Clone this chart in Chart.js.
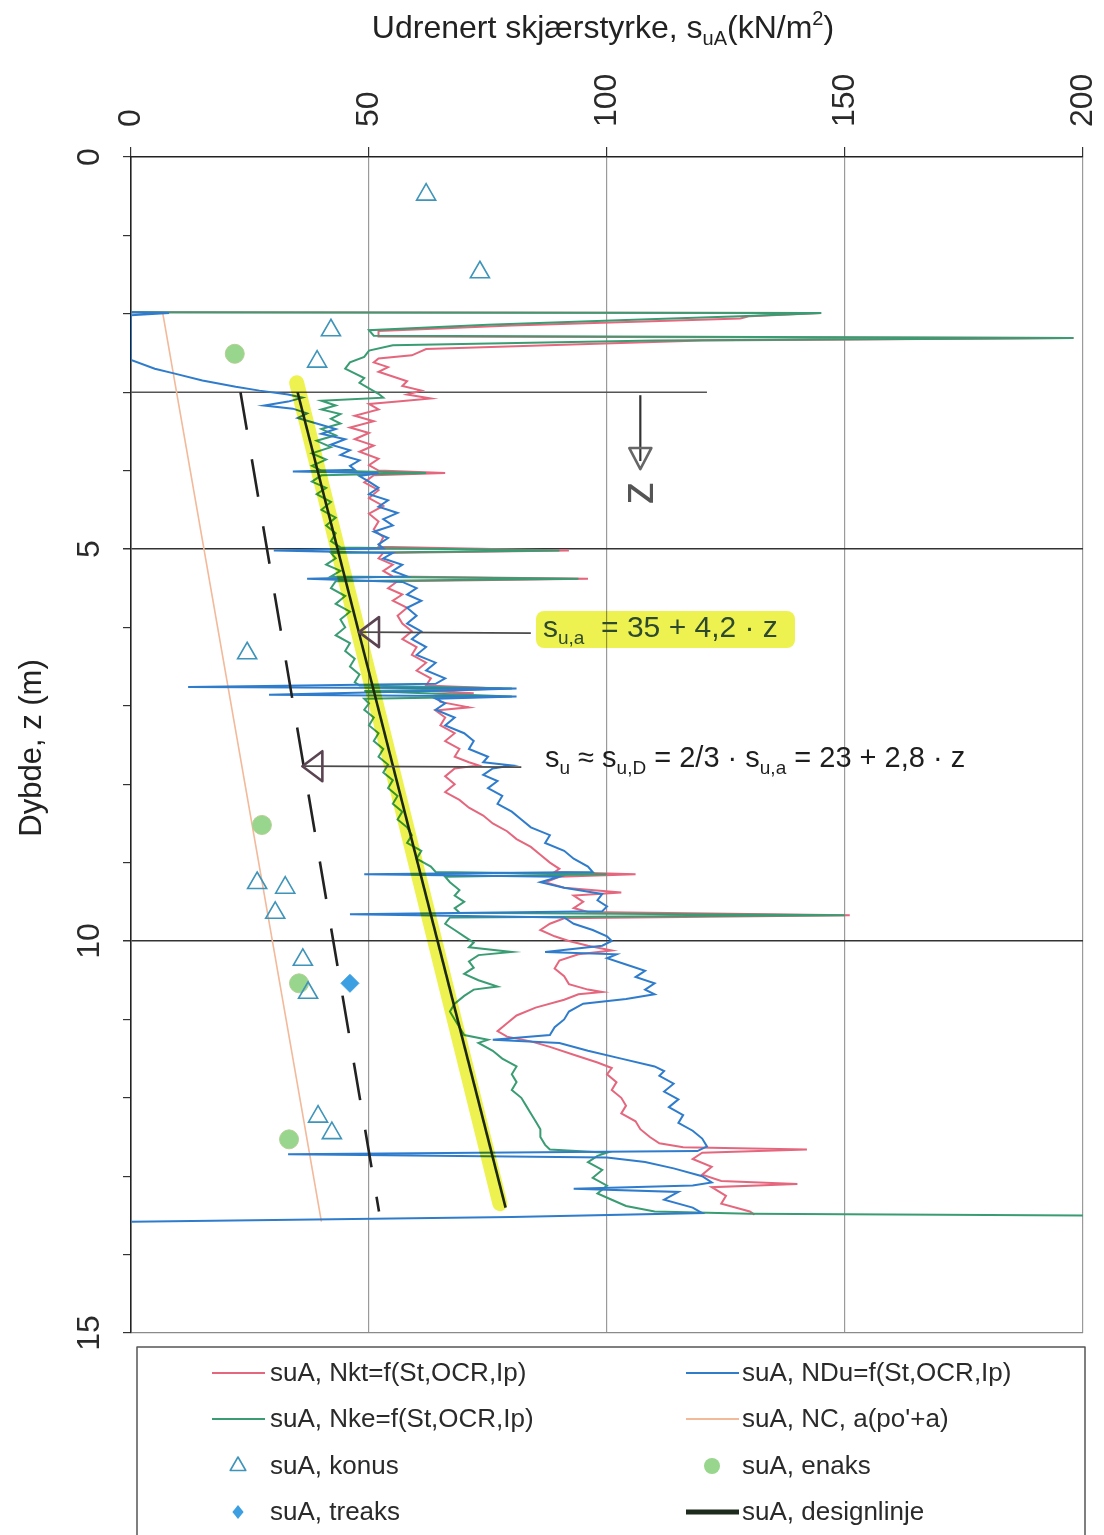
<!DOCTYPE html>
<html><head><meta charset="utf-8">
<script src="https://cdn.jsdelivr.net/npm/chart.js"></script>
<style>html,body{margin:0;padding:0;background:#fff}#wrap{width:1104px;height:1535px;position:relative}</style>
</head><body><div id="wrap"><canvas id="c" width="1104" height="1535"></canvas></div>
<script>
// ---------- DATA (depth z [m], su [kN/m2]) ----------
const suTicks = [0, 50, 100, 150, 200];
const depthTicks = [0, 5, 10, 15];

const nktProfile = [[1.98,0],[1.99,145],[2.03,130],[2.06,128],[2.10,106],[2.15,80],[2.22,52],[2.29,52],[2.31,198],[2.34,120],[2.45,62],[2.53,59],[2.57,52],[2.62,51],[2.68,54],[2.74,52],[2.80,55],[2.86,58],[2.92,57],[2.98,61],[3.03,58],[3.08,63],[3.12,56],[3.15,50],[3.22,52],[3.30,47],[3.37,51],[3.45,46],[3.52,50],[3.60,47],[3.68,51],[3.76,48],[3.85,52],[3.93,50],[4.00,52],[4.03,66],[4.06,51],[4.15,49],[4.25,52],[4.35,50],[4.45,53],[4.55,50],[4.65,52],[4.75,51],[4.85,53],[4.97,52],[5.02,92],[5.05,53],[5.12,52],[5.20,55],[5.28,53],[5.35,55],[5.38,96],[5.41,56],[5.50,54],[5.58,57],[5.66,55],[5.75,58],[5.85,56],[5.95,57],[6.05,59],[6.15,57],[6.25,60],[6.35,59],[6.45,62],[6.55,60],[6.65,63],[6.74,62],[6.78,78],[6.81,63],[6.84,72],[6.87,64],[6.95,65],[7.02,71],[7.06,64],[7.15,66],[7.25,65],[7.35,68],[7.45,66],[7.55,69],[7.65,68],[7.72,71],[7.76,73],[7.80,68],[7.90,66],[8.00,68],[8.10,66],[8.20,69],[8.30,71],[8.40,74],[8.50,76],[8.60,79],[8.70,81],[8.80,84],[8.90,86],[9.00,88],[9.08,90],[9.12,89],[9.15,106],[9.18,90],[9.25,87],[9.32,91],[9.38,103],[9.42,93],[9.50,95],[9.58,93],[9.63,96],[9.67,151],[9.71,91],[9.78,88],[9.86,86],[9.94,89],[10.00,92],[10.06,96],[10.12,101],[10.17,94],[10.25,90],[10.35,89],[10.45,91],[10.55,92],[10.62,96],[10.65,99],[10.68,94],[10.75,91],[10.85,85],[10.95,81],[11.05,79],[11.15,77],[11.22,79],[11.28,84],[11.35,88],[11.45,93],[11.55,98],[11.62,101],[11.70,100],[11.80,102],[11.90,101],[12.00,103],[12.10,104],[12.20,103],[12.30,106],[12.40,107],[12.50,109],[12.58,111],[12.63,116],[12.66,142],[12.70,120],[12.78,118],[12.88,122],[12.98,120],[13.06,124],[13.10,140],[13.14,122],[13.25,125],[13.35,124],[13.45,130],[13.49,131]];

const nkeProfile = [[1.98,0],[1.99,145],[2.03,128],[2.08,104],[2.14,75],[2.21,50],[2.28,51],[2.31,198],[2.34,110],[2.40,55],[2.47,50],[2.55,49],[2.62,46],[2.70,45],[2.76,47],[2.82,49],[2.88,48],[2.95,50],[3.02,52],[3.07,53],[3.11,40],[3.17,43],[3.22,40],[3.28,44],[3.34,42],[3.40,44],[3.47,40],[3.55,43],[3.62,39],[3.70,42],[3.78,38],[3.86,41],[3.94,38],[4.00,40],[4.03,62],[4.06,40],[4.14,38],[4.22,41],[4.30,39],[4.40,42],[4.50,40],[4.60,43],[4.70,41],[4.80,43],[4.90,42],[4.98,44],[5.02,90],[5.05,42],[5.12,43],[5.20,41],[5.28,44],[5.35,42],[5.38,94],[5.41,43],[5.50,42],[5.60,45],[5.70,43],[5.80,46],[5.90,44],[6.00,45],[6.10,43],[6.20,46],[6.30,45],[6.40,47],[6.50,46],[6.60,48],[6.70,47],[6.74,48],[6.78,80],[6.81,49],[6.88,80],[6.91,49],[6.97,50],[7.05,49],[7.15,51],[7.25,50],[7.35,52],[7.45,51],[7.55,53],[7.65,52],[7.75,54],[7.85,53],[7.95,55],[8.05,54],[8.15,56],[8.25,55],[8.35,57],[8.45,56],[8.55,58],[8.65,59],[8.75,58],[8.85,61],[8.95,60],[9.05,63],[9.12,64],[9.15,100],[9.18,66],[9.25,67],[9.35,69],[9.42,68],[9.50,70],[9.58,68],[9.64,69],[9.67,150],[9.70,67],[9.78,66],[9.86,68],[9.94,70],[10.02,72],[10.08,71],[10.14,80],[10.18,73],[10.26,71],[10.34,72],[10.42,70],[10.50,73],[10.58,77],[10.62,72],[10.70,70],[10.80,68],[10.90,67],[11.00,68],[11.10,69],[11.20,70],[11.26,75],[11.30,73],[11.40,76],[11.50,78],[11.60,81],[11.70,80],[11.80,81],[11.90,80],[12.00,82],[12.10,83],[12.20,84],[12.30,85],[12.40,86],[12.50,86],[12.60,87],[12.66,88],[12.70,100],[12.74,98],[12.82,96],[12.92,99],[13.02,97],[13.12,100],[13.22,98],[13.30,101],[13.38,104],[13.45,110],[13.48,130],[13.50,200]];

const nduProfile = [[1.98,0],[1.99,8],[2.02,0],[2.59,0],[2.70,5],[2.76,9],[2.85,15],[2.93,22],[2.98,27],[3.03,33],[3.07,36],[3.12,33],[3.17,28],[3.21,34],[3.27,37],[3.33,35],[3.40,39],[3.47,43],[3.53,40],[3.60,45],[3.67,42],[3.74,46],[3.80,44],[3.87,48],[3.94,46],[3.99,47],[4.01,34],[4.03,52],[4.07,48],[4.14,50],[4.22,52],[4.30,50],[4.38,54],[4.46,52],[4.54,56],[4.62,53],[4.70,55],[4.78,51],[4.86,54],[4.94,52],[4.99,53],[5.02,30],[5.05,55],[5.12,53],[5.20,57],[5.28,55],[5.35,58],[5.38,37],[5.42,57],[5.50,60],[5.58,58],[5.66,61],[5.75,58],[5.85,60],[5.95,58],[6.05,61],[6.15,59],[6.25,62],[6.35,60],[6.45,64],[6.55,62],[6.65,66],[6.72,64],[6.76,12],[6.78,81],[6.81,63],[6.86,29],[6.88,81],[6.91,64],[6.97,66],[7.05,64],[7.15,68],[7.25,66],[7.35,70],[7.45,72],[7.55,71],[7.65,75],[7.72,74],[7.76,80],[7.80,76],[7.88,74],[7.96,77],[8.05,75],[8.15,78],[8.25,77],[8.35,80],[8.45,82],[8.55,84],[8.65,88],[8.75,87],[8.85,91],[8.95,93],[9.05,96],[9.12,97],[9.15,49],[9.18,90],[9.25,86],[9.32,91],[9.40,99],[9.48,98],[9.56,100],[9.62,99],[9.66,46],[9.70,91],[9.78,93],[9.86,97],[9.94,100],[10.00,101],[10.06,99],[10.14,87],[10.17,102],[10.22,100],[10.30,104],[10.38,108],[10.46,106],[10.54,110],[10.62,108],[10.68,110],[10.74,104],[10.80,95],[10.90,92],[11.00,91],[11.10,89],[11.20,88],[11.26,76],[11.30,90],[11.40,96],[11.50,103],[11.60,110],[11.66,112],[11.72,111],[11.82,114],[11.92,112],[12.02,115],[12.12,113],[12.22,116],[12.32,115],[12.42,118],[12.52,120],[12.62,121],[12.68,119],[12.72,33],[12.76,100],[12.82,108],[12.90,114],[13.00,120],[13.08,122],[13.12,118],[13.16,93],[13.20,115],[13.30,112],[13.40,118],[13.47,120],[13.52,80],[13.56,30],[13.58,0]];

const konusPoints = [[0.48,62.0],[1.47,73.3],[2.21,42.0],[2.61,39.1],[6.33,24.4],[9.26,26.5],[9.32,32.4],[9.64,30.3],[10.24,36.1],[10.66,37.2],[12.24,39.3],[12.45,42.2]];
const enaksPoints = [[2.51,21.8],[8.52,27.5],[10.54,35.3],[12.53,33.2]];
const treaksPoints = [[10.54,46.0]];
const ncLine = [[2.0,6.7],[13.58,40.0]];
const designLine = [[3.0,35.0],[13.4,78.7]];
const designHighlight = [[2.88,34.8],[13.35,77.5]];
const suDLine = [[3.0,23.0],[13.45,52.1]];
const referenceLevel = [[3.0,0],[3.0,121]];
const zArrow = [107, 3.0, 3.98];          // su, depth from, depth tip
const annotArrows = [[6.06, 84, 47.9], [7.77, 82, 36.0]]; // depth, su from, su tip

const legendLabels = ['suA, Nkt=f(St,OCR,Ip)','suA, Nke=f(St,OCR,Ip)','suA, NDu=f(St,OCR,Ip)','suA, NC, a(po\'+a)','suA, konus','suA, enaks','suA, treaks','suA, designlinje'];

// ---------- COLOURS ----------
const RED='#e5677e', GREEN='#3a9c72', BLUE='#2f7ccc', NC='#f2b99a', DES='#1d2b1d';
const FONT = "'Liberation Sans', Arial, sans-serif";
const xy = arr => arr.map(p => ({x: p[1], y: p[0]}));

const lineDs = (label, data, color, width, order, extra) => Object.assign({
  label, data: xy(data), showLine: true, borderColor: color, backgroundColor: color,
  borderWidth: width, pointRadius: 0, tension: 0, order, fill: false
}, extra || {});

const datasets = [
  lineDs(legendLabels[0], nktProfile, RED, 2, 6),
  lineDs(legendLabels[1], nkeProfile, GREEN, 2, 5),
  lineDs(legendLabels[2], nduProfile, BLUE, 2, 4),
  lineDs(legendLabels[3], ncLine, NC, 1.6, 7),
  {label: legendLabels[4], data: xy(konusPoints), showLine:false, pointStyle:'triangle', pointRadius:11, pointBorderColor:'#3f94b9', pointBackgroundColor:'rgba(255,255,255,0)', pointBorderWidth:1.6, order:-3},
  {label: legendLabels[5], data: xy(enaksPoints), showLine:false, pointStyle:'circle', pointRadius:9.5, pointBorderColor:'#b2cf94', pointBackgroundColor:'#97d68c', pointBorderWidth:1, order:-2},
  {label: legendLabels[6], data: xy(treaksPoints), showLine:false, pointStyle:'rectRot', pointRadius:9, pointBorderColor:'#3b9fe2', pointBackgroundColor:'#3b9fe2', pointBorderWidth:1, order:-1},
  lineDs(legendLabels[7], designLine, DES, 2.6, 1),
  lineDs('2/3 design', suDLine, '#222', 2.6, 2, {borderDash:[38,30]}),
  lineDs('highlight', designHighlight, 'rgb(238,242,80)', 15, 0, {multiply:true, borderCapStyle:'round'}),
  lineDs('reference', referenceLevel, '#555', 1.6, 8)
];

function drawRuns(ctx, runs, x, y, align, color) {
  let total = 0;
  runs.forEach(r => { ctx.font = r.s + 'px ' + FONT; r.w = ctx.measureText(r.t).width; total += r.w; });
  let cx = align === 'center' ? x - total / 2 : x;
  ctx.fillStyle = color; ctx.textBaseline = 'alphabetic'; ctx.textAlign = 'left';
  runs.forEach(r => { ctx.font = r.s + 'px ' + FONT; ctx.fillText(r.t, cx, y + (r.dy || 0)); cx += r.w; });
  return total;
}

function arrowHeadLeft(ctx, tx, ty) {
  ctx.save();
  ctx.strokeStyle = '#5b4452'; ctx.lineWidth = 2.6; ctx.lineJoin = 'round';
  ctx.beginPath(); ctx.moveTo(tx, ty); ctx.lineTo(tx + 20, ty - 15); ctx.lineTo(tx + 20, ty + 15); ctx.closePath(); ctx.stroke();
  ctx.restore();
}

const overlay = {
  id: 'overlay',
  beforeDatasetDraw(chart, args) {
    const ds = chart.data.datasets[args.index];
    if (ds.multiply) { chart.ctx.save(); chart.ctx.globalCompositeOperation = 'multiply'; }
  },
  afterDatasetDraw(chart, args) {
    const ds = chart.data.datasets[args.index];
    if (ds.multiply) chart.ctx.restore();
  },
  afterDraw(chart) {
    const ctx = chart.ctx, xs = chart.scales.x, ys = chart.scales.y, ca = chart.chartArea;
    ctx.save();
    // tick labels
    ctx.fillStyle = '#2a2a2a'; ctx.font = '32px ' + FONT;
    suTicks.forEach(v => {
      ctx.save(); ctx.translate(xs.getPixelForValue(v), ca.top - 30); ctx.rotate(-Math.PI / 2);
      ctx.textAlign = 'left'; ctx.textBaseline = 'middle'; ctx.fillText(String(v), 0, 0); ctx.restore();
    });
    depthTicks.forEach(v => {
      ctx.save(); ctx.translate(90, ys.getPixelForValue(v)); ctx.rotate(-Math.PI / 2);
      ctx.textAlign = 'center'; ctx.textBaseline = 'middle'; ctx.fillText(String(v), 0, 0); ctx.restore();
    });
    // axis titles
    drawRuns(ctx, [{t:'Udrenert skjærstyrke, s', s:32}, {t:'uA', s:20, dy:7}, {t:'(kN/m', s:32}, {t:'2', s:20, dy:-13}, {t:')', s:32}], 603, 38, 'center', '#222');
    ctx.save(); ctx.translate(32, 748); ctx.rotate(-Math.PI / 2);
    ctx.font = '31px ' + FONT; ctx.textAlign = 'center'; ctx.textBaseline = 'middle'; ctx.fillStyle = '#222';
    ctx.fillText('Dybde, z (m)', 0, 0); ctx.restore();

    // z arrow
    const zx = xs.getPixelForValue(zArrow[0]), zy0 = ys.getPixelForValue(zArrow[1]) + 3, zt = ys.getPixelForValue(zArrow[2]);
    ctx.strokeStyle = '#333'; ctx.lineWidth = 2.2;
    ctx.beginPath(); ctx.moveTo(zx, zy0); ctx.lineTo(zx, zt - 8); ctx.stroke();
    ctx.strokeStyle = '#666'; ctx.lineWidth = 2.6; ctx.lineJoin = 'round';
    ctx.beginPath(); ctx.moveTo(zx, zt); ctx.lineTo(zx - 11, zt - 21); ctx.lineTo(zx + 11, zt - 21); ctx.closePath(); ctx.stroke();
    ctx.save(); ctx.translate(zx, zt + 24); ctx.rotate(-Math.PI / 2);
    ctx.font = '46px ' + FONT; ctx.fillStyle = '#555'; ctx.textAlign = 'center'; ctx.textBaseline = 'middle';
    ctx.fillText('z', 0, 0); ctx.restore();

    // arrows to design lines
    annotArrows.forEach(a => {
      const y = ys.getPixelForValue(a[0]), x0 = xs.getPixelForValue(a[1]), xt = xs.getPixelForValue(a[2]);
      ctx.strokeStyle = '#4a4a4a'; ctx.lineWidth = 1.8;
      ctx.beginPath(); ctx.moveTo(x0, y + 1); ctx.lineTo(xt + 2, y); ctx.stroke();
      arrowHeadLeft(ctx, xt, y);
    });

    // text 1 with highlight
    ctx.save(); ctx.globalCompositeOperation = 'multiply'; ctx.fillStyle = 'rgb(238,242,80)';
    ctx.beginPath(); ctx.roundRect(536, 611, 259, 37, 8); ctx.fill(); ctx.restore();
    drawRuns(ctx, [{t:'s', s:30}, {t:'u,a', s:19, dy:7}, {t:'  = 35 + 4,2 · z', s:30}], 543, 637, 'left', '#2e4a2e');
    // text 2
    drawRuns(ctx, [{t:'s', s:29}, {t:'u', s:19, dy:7}, {t:' ≈ s', s:29}, {t:'u,D', s:19, dy:7}, {t:' = 2/3 · s', s:29}, {t:'u,a', s:19, dy:7}, {t:' = 23 + 2,8 · z', s:29}], 545, 767, 'left', '#1e1e1e');

    // legend
    ctx.strokeStyle = '#555'; ctx.lineWidth = 1.5;
    ctx.strokeRect(137, 1347, 948, 200);
    const rows = [1373, 1419, 1466, 1512];
    const items = [[0,0,0],[2,1,0],[1,0,1],[3,1,1],[4,0,2],[5,1,2],[6,0,3],[7,1,3]];
    items.forEach(([di, col, row]) => {
      const ds = chart.data.datasets[di];
      const y = rows[row];
      const sx = col === 0 ? 212 : 686, tx = col === 0 ? 270 : 742;
      if (ds.showLine) {
        ctx.strokeStyle = ds.borderColor; ctx.lineWidth = di === 7 ? 5 : 2.2;
        ctx.beginPath(); ctx.moveTo(sx, y); ctx.lineTo(sx + 53, y); ctx.stroke();
      } else {
        const mx = sx + 26;
        ctx.lineWidth = ds.pointBorderWidth;
        if (ds.pointStyle === 'triangle') {
          ctx.strokeStyle = ds.pointBorderColor; const r = 9;
          ctx.beginPath(); ctx.moveTo(mx, y - r); ctx.lineTo(mx + r * 0.866, y + r / 2); ctx.lineTo(mx - r * 0.866, y + r / 2); ctx.closePath(); ctx.stroke();
        } else if (ds.pointStyle === 'circle') {
          ctx.fillStyle = ds.pointBackgroundColor; ctx.beginPath(); ctx.arc(mx, y, 8, 0, Math.PI * 2); ctx.fill();
        } else {
          ctx.fillStyle = ds.pointBackgroundColor; const r = 7;
          ctx.beginPath(); ctx.moveTo(mx, y - r); ctx.lineTo(mx + r * 0.8, y); ctx.lineTo(mx, y + r); ctx.lineTo(mx - r * 0.8, y); ctx.closePath(); ctx.fill();
        }
      }
      ctx.fillStyle = '#2a2a2a'; ctx.font = '26px ' + FONT; ctx.textAlign = 'left'; ctx.textBaseline = 'middle';
      ctx.fillText(ds.label, tx, y + 1);
    });
    ctx.restore();
  }
};

new Chart(document.getElementById('c'), {
  type: 'scatter',
  data: { datasets },
  options: {
    responsive: false, animation: false, devicePixelRatio: 1,
    layout: { padding: { left: 0, top: 0, right: 21, bottom: 202 } },
    plugins: { legend: { display: false }, tooltip: { enabled: false }, title: { display: false } },
    scales: {
      x: {
        type: 'linear', position: 'top', min: 0, max: 200,
        ticks: { stepSize: 50, display: false },
        grid: { color: c => (c.tick && c.tick.value > 0) ? '#9a9a9a' : 'rgba(0,0,0,0)', lineWidth: 1.2, tickLength: 10, tickColor: '#333' },
        border: { display: true, color: '#222', width: 1.6 },
        afterFit: s => { s.height = 157; }
      },
      y: {
        type: 'linear', reverse: true, min: 0, max: 15,
        ticks: { stepSize: 1, display: false },
        grid: {
          color: c => { const v = c.tick && c.tick.value; return (v === 5 || v === 10) ? '#333' : (v === 15 ? '#8a8a8a' : 'rgba(0,0,0,0)'); },
          lineWidth: c => { const v = c.tick && c.tick.value; return (v === 5 || v === 10) ? 1.5 : 1.2; },
          tickLength: 8, tickColor: '#333'
        },
        border: { display: true, color: '#222', width: 1.6 },
        afterFit: s => { s.width = 131; }
      }
    }
  },
  plugins: [overlay]
});
</script>
</body></html>
